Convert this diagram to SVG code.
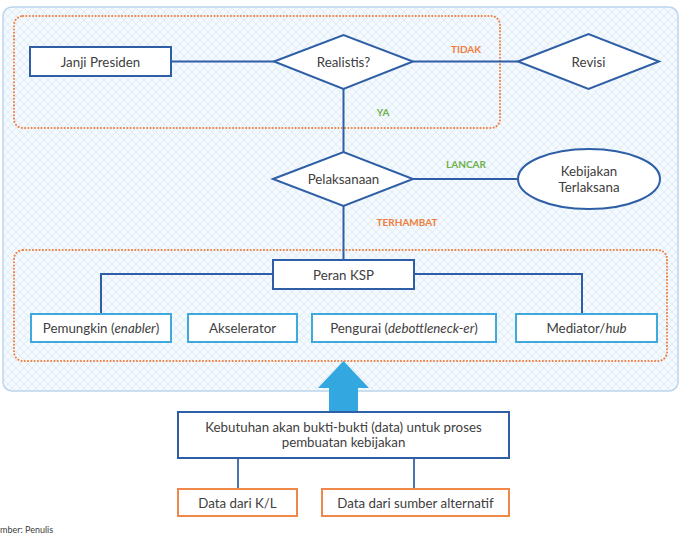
<svg xmlns="http://www.w3.org/2000/svg" width="696" height="538" viewBox="0 0 696 538">
<defs>
<pattern id="hatch" width="8" height="8" patternUnits="userSpaceOnUse">
<rect width="8" height="8" fill="#f4f9fd"/>
<path d="M0,0 L8,8 M8,0 L0,8" stroke="#dbe9f5" stroke-width="0.8"/>
</pattern>
<style>
text{font-family:"Lato","Open Sans","Liberation Sans",sans-serif;fill:#404040;font-size:13.3px;text-anchor:middle;dominant-baseline:central}
.dk{fill:#fff;stroke:#2e5fa6;stroke-width:2}
.lt{fill:#fff;stroke:#3fa9dc;stroke-width:2}
.or{fill:#fff;stroke:#f0884a;stroke-width:2}
.dot{fill:none;stroke:#f07d3c;stroke-width:2;stroke-dasharray:0.1 3.2;stroke-linecap:round}
.ln{fill:none;stroke:#2e5fa6;stroke-width:2}
.ln2{fill:none;stroke:#4a72ad;stroke-width:2}
.lbl{font-size:10px;font-weight:bold}
</style>
</defs>
<rect x="3" y="7" width="675" height="384" rx="9" fill="url(#hatch)" stroke="#bad5ec" stroke-width="1.5"/>
<rect x="14" y="16" width="486" height="112" rx="9" class="dot"/>
<rect x="14" y="250" width="653" height="111" rx="9" class="dot"/>
<g id="connectors">
<path class="ln" d="M171,61.5 H274"/>
<path class="ln" d="M413,61.5 H518"/>
<path class="ln" d="M343.5,89 V152"/>
<path class="ln" d="M413,179 H518"/>
<path class="ln" d="M343.5,206 V260"/>
<path class="ln" d="M273,274 H101 V314"/>
<path class="ln" d="M414,274 H582 V314"/>
<path class="ln2" d="M238,458 V489"/>
<path class="ln2" d="M414,458 V489"/>
<path d="M329,412 V388 H318 L343.5,361 L369,388 H358 V412 Z" fill="#33a7df"/>
<text class="lbl" x="466" y="49" style="fill:#f07d3c">TIDAK</text>
<text class="lbl" x="383" y="112" style="fill:#6fb04a">YA</text>
<text class="lbl" x="466" y="164" style="fill:#6fb04a">LANCAR</text>
<text class="lbl" x="407" y="222" style="fill:#f07d3c">TERHAMBAT</text>
</g>
<g id="janji"><rect class="dk" x="30" y="47" width="141" height="29"/><text x="100.5" y="61.5">Janji Presiden</text></g>
<g id="realistis"><polygon class="dk" points="274,61.5 343.5,35 413,61.5 343.5,89"/><text x="343.5" y="61.5">Realistis?</text></g>
<g id="revisi"><polygon class="dk" points="518,61.5 588.5,34 659,61.5 588.5,89"/><text x="588.5" y="61.5">Revisi</text></g>
<g id="pelaksanaan"><polygon class="dk" points="273,179 343.5,152 413,179 343.5,206"/><text x="343.5" y="179">Pelaksanaan</text></g>
<g id="terlaksana"><ellipse class="dk" cx="589" cy="179" rx="71" ry="30"/><text x="589" y="171">Kebijakan</text><text x="589" y="187">Terlaksana</text></g>
<g id="peran"><rect class="dk" x="273" y="260" width="141" height="29"/><text x="343.5" y="274.5">Peran KSP</text></g>
<g id="pemungkin"><rect class="lt" x="31" y="314" width="140" height="28"/><text x="101" y="328">Pemungkin (<tspan font-style="italic">enabler</tspan>)</text></g>
<g id="akselerator"><rect class="lt" x="188" y="314" width="109" height="28"/><text x="242.5" y="328">Akselerator</text></g>
<g id="pengurai"><rect class="lt" x="312" y="314" width="184" height="28"/><text x="404" y="328">Pengurai (<tspan font-style="italic">debottleneck-er</tspan>)</text></g>
<g id="mediator"><rect class="lt" x="516" y="314" width="141" height="28"/><text x="586.5" y="328">Mediator/<tspan font-style="italic">hub</tspan></text></g>
<g id="kebutuhan"><rect class="dk" x="178" y="412" width="331" height="46"/><text x="343.5" y="427">Kebutuhan akan bukti-bukti (data) untuk proses</text><text x="343.5" y="442">pembuatan kebijakan</text></g>
<g id="datakl"><rect class="or" x="178" y="489" width="119" height="27"/><text x="237.5" y="502.5">Data dari K/L</text></g>
<g id="dataalt"><rect class="or" x="322" y="489" width="187" height="27"/><text x="415.5" y="502.5">Data dari sumber alternatif</text></g>
<text x="0" y="529" style="font-size:9px;text-anchor:start">mber: Penulis</text>
</svg>
